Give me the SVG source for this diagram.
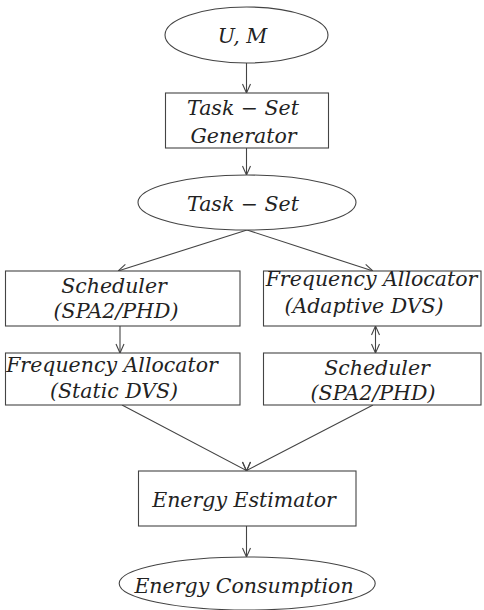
<svg xmlns="http://www.w3.org/2000/svg" width="484" height="610" viewBox="0 0 484 610">
<style>
.shape{fill:#fff;stroke:#444;stroke-width:1.1}
.lbl{font-family:"DejaVu Serif","Liberation Serif",serif;font-style:italic;font-size:20.5px;fill:#222;text-anchor:middle}
.conn{fill:none;stroke:#444;stroke-width:1.1}
</style>
<defs>
<marker id="arr" viewBox="0 0 10 10" refX="10" refY="5" markerWidth="10" markerHeight="10" markerUnits="userSpaceOnUse" orient="auto-start-reverse">
<path d="M1,1 L10,5 L1,9" fill="none" stroke="#444" stroke-width="1.1"/>
</marker>
</defs>
<rect width="484" height="610" fill="#fff"/>
<g id="connectors">
<path class="conn" d="M246.5,63 L246.5,93" marker-end="url(#arr)"/>
<path class="conn" d="M246.5,148 L246.5,175" marker-end="url(#arr)"/>
<path class="conn" d="M247,230 L118,271" marker-end="url(#arr)"/>
<path class="conn" d="M247,230 L373,271" marker-end="url(#arr)"/>
<path class="conn" d="M120,326 L120,353" marker-end="url(#arr)"/>
<path class="conn" d="M375.5,326 L375.5,353" marker-start="url(#arr)" marker-end="url(#arr)"/>
<path class="conn" d="M122,405 L246.5,470.5 L246.5,471" marker-end="url(#arr)"/>
<path class="conn" d="M373,405 L246.5,470.5 L246.5,471" marker-end="url(#arr)"/>
<path class="conn" d="M246.5,526 L246.5,557" marker-end="url(#arr)"/>
</g>
<g id="input">
<ellipse class="shape" cx="246.5" cy="35" rx="81.5" ry="28"/>
<text class="lbl" x="242.5" y="43">U, M</text>
</g>
<g id="generator">
<rect class="shape" x="165.5" y="93" width="163" height="55"/>
<text class="lbl" x="243" y="115">Task − Set</text>
<text class="lbl" x="243.5" y="142.5">Generator</text>
</g>
<g id="taskset">
<ellipse class="shape" cx="247" cy="202.5" rx="109" ry="27.5"/>
<text class="lbl" x="243" y="210.5">Task − Set</text>
</g>
<g id="scheduler-left">
<rect class="shape" x="5.5" y="271" width="234.5" height="55"/>
<text class="lbl" x="114" y="292.5">Scheduler</text>
<text class="lbl" x="116" y="318">(SPA2/PHD)</text>
</g>
<g id="freq-adaptive">
<rect class="shape" x="263.5" y="271" width="217.5" height="55"/>
<text class="lbl" x="371.5" y="286">Frequency Allocator</text>
<text class="lbl" x="364" y="313">(Adaptive DVS)</text>
</g>
<g id="freq-static">
<rect class="shape" x="5.5" y="353" width="234.5" height="52"/>
<text class="lbl" x="112" y="371.5">Frequency Allocator</text>
<text class="lbl" x="114" y="398">(Static DVS)</text>
</g>
<g id="scheduler-right">
<rect class="shape" x="263.5" y="353" width="217.5" height="52"/>
<text class="lbl" x="377" y="375">Scheduler</text>
<text class="lbl" x="373" y="400">(SPA2/PHD)</text>
</g>
<g id="estimator">
<rect class="shape" x="138.5" y="471" width="217.5" height="55"/>
<text class="lbl" x="244" y="506.5">Energy Estimator</text>
</g>
<g id="consumption">
<ellipse class="shape" cx="247.2" cy="583.5" rx="128" ry="26.5"/>
<text class="lbl" x="244" y="592.5">Energy Consumption</text>
</g>
</svg>
